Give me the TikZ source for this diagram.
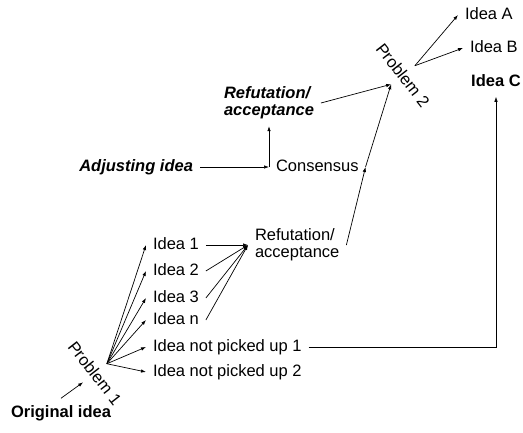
\documentclass[tikz,border=0pt]{standalone}
\usepackage{fontspec}
\setmainfont{Liberation Sans}
\usetikzlibrary{arrows.meta}
\newcommand\txtsize{\fontsize{16.5}{17}\selectfont}

\begin{document}
\begin{tikzpicture}[x=1pt,y=-1pt,font=\txtsize,line width=0.7pt,
  >={Latex[length=5pt,width=3.5pt]},
  lbl/.style={inner sep=2pt,outer sep=5pt,text height=12pt,text depth=3.5pt},
  two/.style={inner sep=2pt,outer sep=5pt,align=left},
  prob/.style={rotate=-52,inner sep=1pt,outer sep=8pt},
  bfnode/.style={font=\txtsize\bfseries},
  binode/.style={font=\txtsize\bfseries\itshape}]
\useasboundingbox (0,0) rectangle (523,432);
\node [lbl,bfnode] (og) at (61,413) {Original idea};
\node [prob] (p1) at (95,373) {Problem 1};
\node [lbl,anchor=west] (i1) at (146,245) {Idea 1};
\node [lbl,anchor=west] (i2) at (146,271) {Idea 2};
\node [lbl,anchor=west] (i3) at (146,298) {Idea 3};
\node [lbl,anchor=west] (inn) at (146,320) {Idea n};
\node [lbl,anchor=west] (np1) at (146,347) {Idea not picked up 1};
\node [lbl,anchor=west] (np2) at (146,372) {Idea not picked up 2};
\node [two,anchor=west] (rl) at (248,245) {Refutation/\\acceptance};
\node [lbl,anchor=west] (con) at (269,167) {Consensus};
\node [lbl,binode,anchor=east] (adj) at (200,167) {Adjusting idea};
\node [two,binode] (ru) at (269,103) {Refutation/\\acceptance};
\node [prob] (p2) at (403,75) {Problem 2};
\node [lbl,anchor=west] (ia) at (458,15) {Idea A};
\node [lbl,anchor=west] (ib) at (463,48) {Idea B};
\node [lbl,bfnode] (ic) at (496,82) {Idea C};
\draw [->] (og.north) -- (p1.south);
\foreach \n in {i1,i2,i3,inn,np1,np2}
  \draw [->] (p1.north) -- (\n.west);
\foreach \n in {i1,i2,i3,inn}
  \draw [->] (\n.east) -- (rl.west);
\draw [->] (np1.east) -| (ic.south);
\draw [->] (rl.east) -- (con.east);
\draw [->] (con.east) -- (p2.south);
\draw [->] (adj.east) -- (con.west);
\draw [->] (con.west) -- (ru.south);
\draw [->] (ru.east) -- (p2.south);
\draw [->] (p2.north) -- (ia.west);
\draw [->] (p2.north) -- (ib.west);
\end{tikzpicture}
\end{document}
